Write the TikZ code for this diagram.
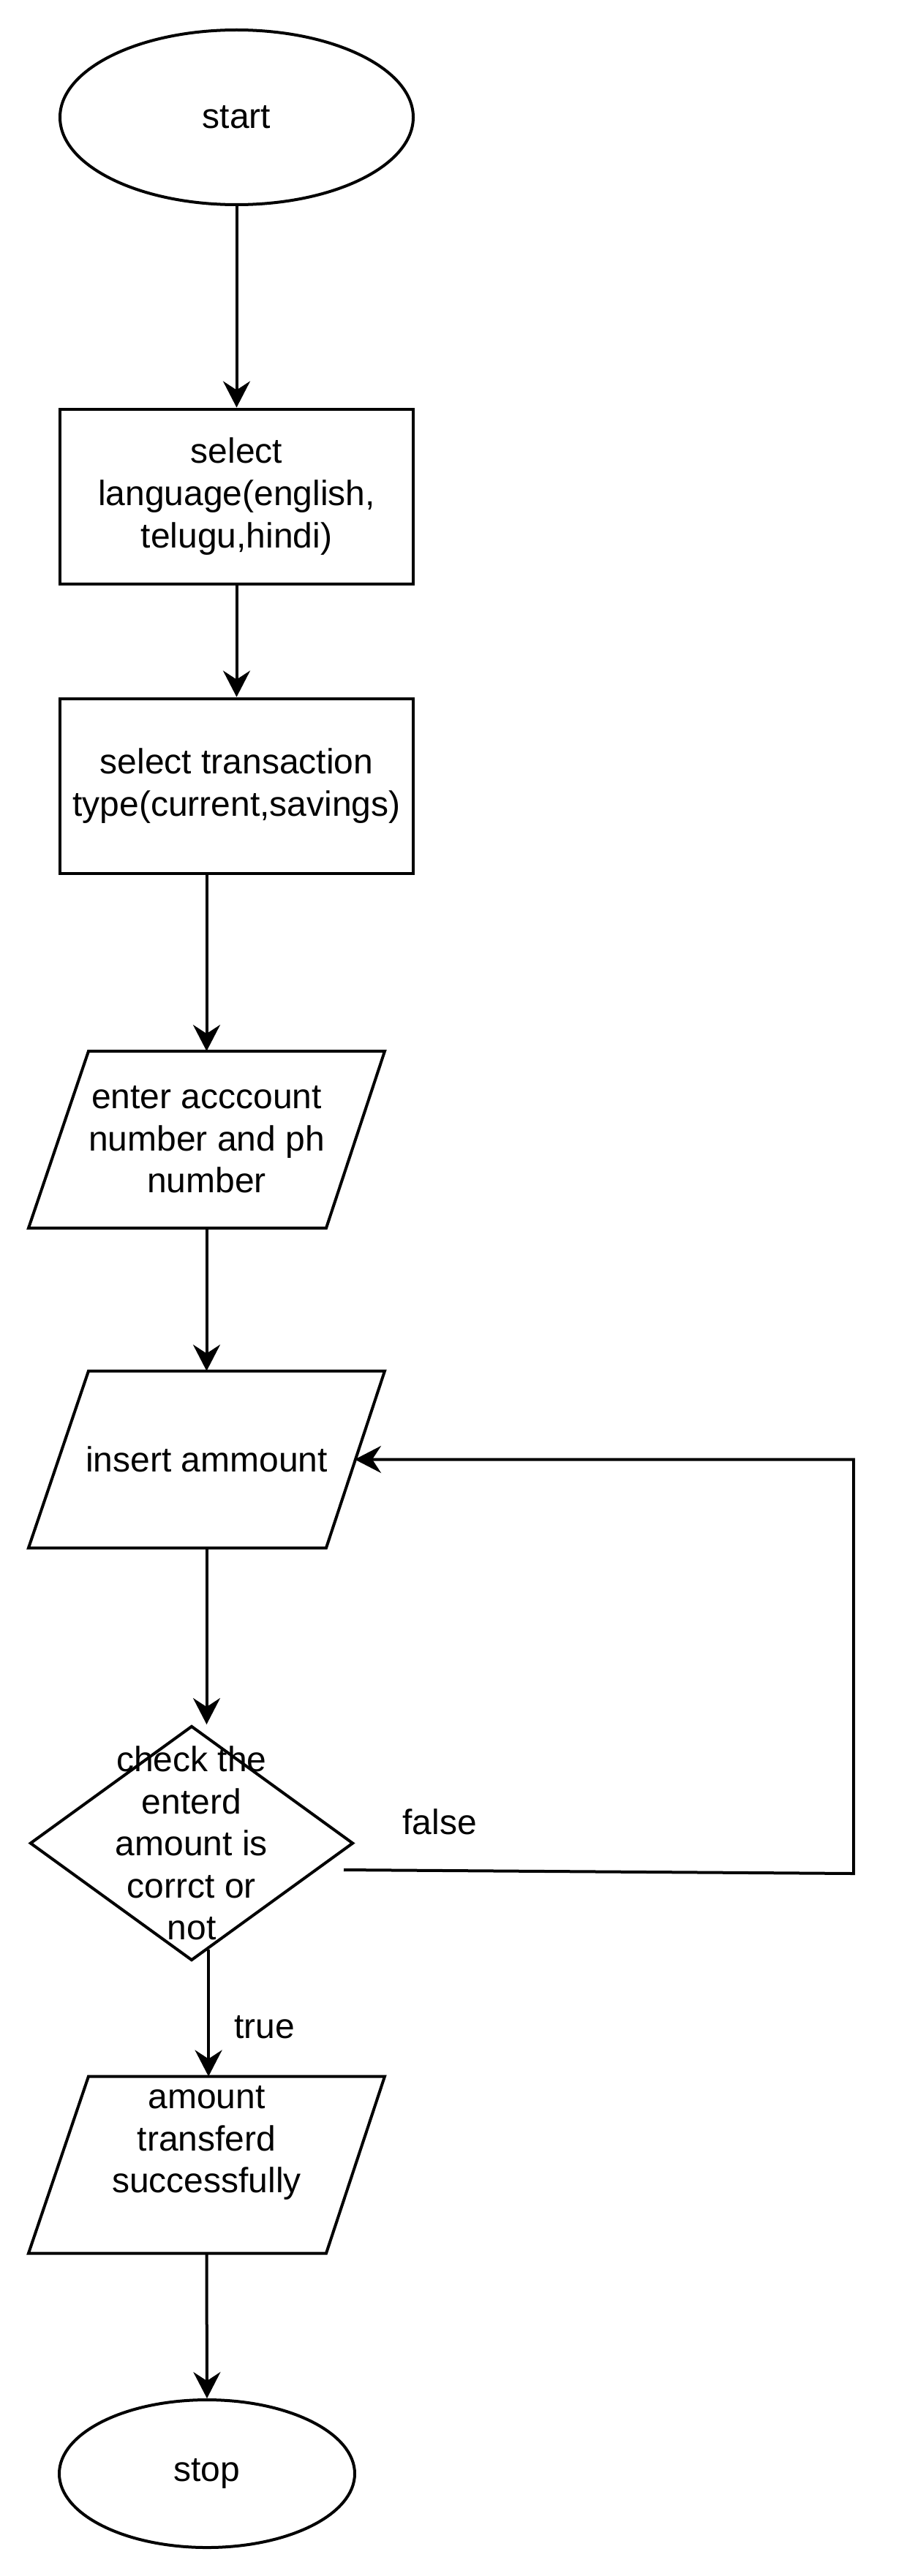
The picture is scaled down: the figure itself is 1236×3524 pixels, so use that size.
\documentclass[tikz,border=0pt]{standalone}
\usepackage{fontspec}
\setmainfont{Liberation Sans}
\usetikzlibrary{shapes.geometric,arrows.meta,calc}
\begin{document}
\begin{tikzpicture}[x=1pt,y=-1pt,
  line width=4pt,
  every node/.style={font=\fontsize{48}{57.6}\selectfont, align=center},
  term/.style={ellipse, draw, inner sep=0pt},
  procbox/.style={rectangle, draw, minimum width=483pt, minimum height=239pt, inner sep=0pt},
  iobox/.style={rectangle, minimum width=483pt, minimum height=238pt, inner sep=0pt},
  decide/.style={diamond, draw, minimum width=442pt, minimum height=321pt, aspect=1.377, inner sep=0pt},
  arr/.style={-{Stealth[length=36pt,width=37pt,inset=12pt]}}
]
\useasboundingbox (0,0) rectangle (1236,3524);

\node[term, minimum width=483pt, minimum height=239pt] (start) at (323.5,160.5) {start};
\node[procbox] (lang) at (323.5,679) {select\\language(english,\\telugu,hindi)};
\node[procbox] (trans) at (323.5,1075) {select transaction\\type(current,savings)};
\node[iobox] (acc) at (282.5,1559) {enter acccount\\number and ph\\number};
\node[iobox] (ins) at (282.5,1996.5) {insert ammount};
\node[decide] (chk) at (262,2521.5) {};
\node (chktxt) at (chk.center) {check the\\enterd\\amount is\\corrct or\\not};
\node[iobox] (res) at (282.5,2961.5) {};
\node (restxt) at ($(res.center)+(0,-30)$) {amount\\transferd\\successfully};
\node[term, minimum width=404pt, minimum height=202pt] (stop) at (283,3384) {stop};

\foreach \n in {acc,ins,res}
  \draw (\n.south west) -- ($(\n.south east)+(-80,0)$) -- (\n.north east) -- ($(\n.north west)+(82,0)$) -- cycle;

\node (flbl) at (601,2492) {false};
\node (tlbl) at (362,2773) {true};

\draw[arr] (start.south) -- (lang.north);
\draw[arr] (lang.south) -- (trans.north);
\draw[arr] (trans.south -| acc.north) -- (acc.north);
\draw[arr] (acc.south) -- (ins.north);
\draw[arr] (ins.south) -- (ins.south |- chk.north);
\coordinate (tstart) at (chk.-81.8);
\draw[arr] (tstart) -- (tstart |- res.north);
\coordinate (fstart) at (470,2558);
\coordinate (fcorner) at (1167,2563);
\coordinate (insR) at ($(ins.east)+(-41,0)$);
\draw[arr] (fstart) -- (fcorner) |- (insR);
\draw[arr] (res.south) -- (stop.north);
\end{tikzpicture}
\end{document}
